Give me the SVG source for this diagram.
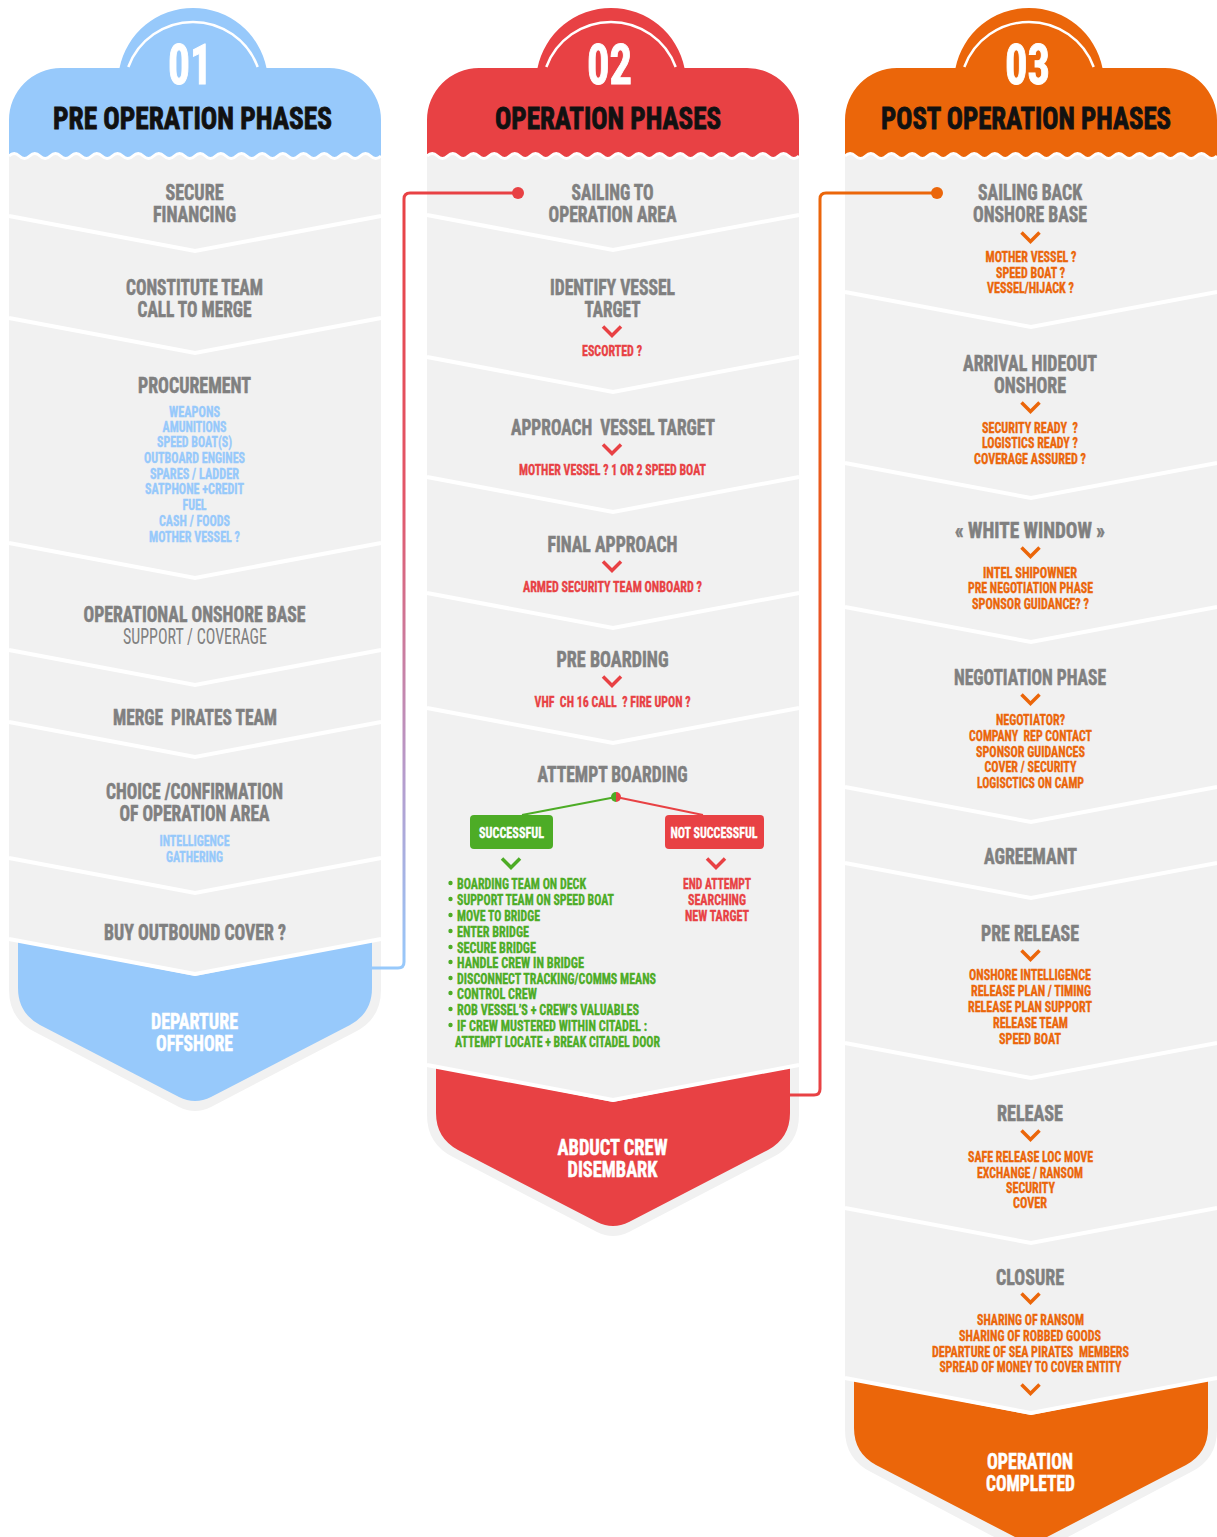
<svg xmlns="http://www.w3.org/2000/svg" xmlns:xlink="http://www.w3.org/1999/xlink" width="1217" height="1537" viewBox="0 0 1217 1537">
<style>
.f{font-family:"Liberation Sans Narrow","Roboto Condensed","DejaVu Sans Condensed",Roboto,"Liberation Sans",sans-serif;font-weight:700;text-anchor:middle}
.st{text-anchor:start}
.pre{white-space:pre}
.n{font-size:56px;fill:#fff;stroke:#fff;stroke-width:1}
.h{font-size:32px;fill:#111;stroke:#111;stroke-width:.9}
.t{font-size:22px;fill:#808080;stroke:#808080;stroke-width:.55}
.rg{font-weight:400;stroke-width:0}
.s{font-size:15px}
.w{font-size:22px;fill:#fff;stroke:#fff;stroke-width:.5}
.ws{font-size:15px;fill:#fff;stroke:#fff;stroke-width:.3}
.b{fill:#97c9fb}.r{fill:#e84144}.o{fill:#eb660a}.g{fill:#4dac26}
text.b{stroke:#97c9fb;stroke-width:.35}text.r{stroke:#e84144;stroke-width:.35}text.o{stroke:#eb660a;stroke-width:.35}text.g{stroke:#4dac26;stroke-width:.35}
.body{fill:#f1f1f1}
.sep{fill:none;stroke:#fff;stroke-width:4}
.cb{stroke:#e84144}.co{stroke:#eb660a}.cg{stroke:#4dac26}
</style>
<defs>
<path id="hdr" d="M0,160 V120 A52,52 0 0 1 52,68 H110.5 A75,75 0 0 1 257.5,68 H320 A52,52 0 0 1 372,120 V160 Z"/>
<path id="arc" d="M119.3,67 A69,69 0 0 1 248.7,67" fill="none" stroke="#fff" stroke-width="2.5"/>
<path id="wfill" d="M0,156 q5.167,-5 10.333,0 t10.333,0 t10.333,0 t10.333,0 t10.333,0 t10.333,0 t10.333,0 t10.333,0 t10.333,0 t10.333,0 t10.333,0 t10.333,0 t10.333,0 t10.333,0 t10.333,0 t10.333,0 t10.333,0 t10.333,0 t10.333,0 t10.333,0 t10.333,0 t10.333,0 t10.333,0 t10.333,0 t10.333,0 t10.333,0 t10.333,0 t10.333,0 t10.333,0 t10.333,0 t10.333,0 t10.333,0 t10.333,0 t10.333,0 t10.333,0 t10.333,0 V166 H0 Z" fill="#f1f1f1"/>
<path id="wline" d="M0,156 q5.167,-5 10.333,0 t10.333,0 t10.333,0 t10.333,0 t10.333,0 t10.333,0 t10.333,0 t10.333,0 t10.333,0 t10.333,0 t10.333,0 t10.333,0 t10.333,0 t10.333,0 t10.333,0 t10.333,0 t10.333,0 t10.333,0 t10.333,0 t10.333,0 t10.333,0 t10.333,0 t10.333,0 t10.333,0 t10.333,0 t10.333,0 t10.333,0 t10.333,0 t10.333,0 t10.333,0 t10.333,0 t10.333,0 t10.333,0 t10.333,0 t10.333,0 t10.333,0" fill="none" stroke="#fff" stroke-width="3"/>
<path id="cv" d="M-9,-4.5 L0,4.5 L9,-4.5" fill="none" stroke-width="3.5"/>
<linearGradient id="gBlue" gradientUnits="userSpaceOnUse" x1="0" y1="193" x2="0" y2="968">
<stop offset="0" stop-color="#e84144"/><stop offset="0.4" stop-color="#e2576a"/><stop offset="0.75" stop-color="#b69ccc"/><stop offset="1" stop-color="#97c9fb"/>
</linearGradient>
<linearGradient id="gOrange" gradientUnits="userSpaceOnUse" x1="0" y1="193" x2="0" y2="1095">
<stop offset="0" stop-color="#eb660a"/><stop offset="1" stop-color="#e84144"/>
</linearGradient>
</defs>
<rect width="1217" height="1537" fill="#fff"/>

<!-- COLUMN 1 -->
<g id="col1">
<path class="body" d="M9,150 H381 V990 Q381,1019 355,1032 L211,1107 Q195,1115 179,1107 L35,1032 Q9,1019 9,990 Z"/>
<g id="col1-header">
<use href="#hdr" transform="translate(9,0)" class="b"/>
<use href="#wfill" transform="translate(9,0)"/>
<use href="#wline" transform="translate(9,0)"/>
<use href="#arc" transform="translate(9,0)"/>
<text class="f n" x="190" y="84" textLength="44" lengthAdjust="spacingAndGlyphs">01</text>
<text class="f h" x="192.5" y="129" textLength="279" lengthAdjust="spacingAndGlyphs">PRE OPERATION PHASES</text>
</g>
<path id="col1-end" class="b" d="M18,941 L195,976 L372,941 V988 Q372,1013 350,1025 L211,1097 Q195,1105 179,1097 L40,1025 Q18,1013 18,988 Z"/>
<path class="sep" d="M9,216 L195,251 L381,216 M9,318 L195,353 L381,318 M9,543 L195,578 L381,543 M9,650 L195,685 L381,650 M9,722 L195,757 L381,722 M9,858 L195,893 L381,858 M9,939 L195,974 L381,939"/>
<g id="n-secure-financing">
<text class="f t" x="194.5" y="200" textLength="58" lengthAdjust="spacingAndGlyphs">SECURE</text>
<text class="f t" x="194.5" y="222" textLength="83" lengthAdjust="spacingAndGlyphs">FINANCING</text>
</g>
<g id="n-constitute-team">
<text class="f t" x="194.5" y="295" textLength="137" lengthAdjust="spacingAndGlyphs">CONSTITUTE TEAM</text>
<text class="f t" x="194.5" y="317" textLength="114" lengthAdjust="spacingAndGlyphs">CALL TO MERGE</text>
</g>
<g id="n-procurement">
<text class="f t" x="194.5" y="393" textLength="113" lengthAdjust="spacingAndGlyphs">PROCUREMENT</text>
<text class="f s b" x="194.5" y="416.5" textLength="51" lengthAdjust="spacingAndGlyphs">WEAPONS</text>
<text class="f s b" x="194.5" y="431.5" textLength="64" lengthAdjust="spacingAndGlyphs">AMUNITIONS</text>
<text class="f s b" x="194.5" y="447" textLength="75" lengthAdjust="spacingAndGlyphs">SPEED BOAT(S)</text>
<text class="f s b" x="194.5" y="462.5" textLength="101" lengthAdjust="spacingAndGlyphs">OUTBOARD ENGINES</text>
<text class="f s b" x="194.5" y="478.5" textLength="89" lengthAdjust="spacingAndGlyphs">SPARES / LADDER</text>
<text class="f s b" x="194.5" y="494" textLength="99" lengthAdjust="spacingAndGlyphs">SATPHONE +CREDIT</text>
<text class="f s b" x="194.5" y="509.5" textLength="24" lengthAdjust="spacingAndGlyphs">FUEL</text>
<text class="f s b" x="194.5" y="525.5" textLength="71" lengthAdjust="spacingAndGlyphs">CASH / FOODS</text>
<text class="f s b" x="194.5" y="541.5" textLength="91" lengthAdjust="spacingAndGlyphs">MOTHER VESSEL ?</text>
</g>
<g id="n-onshore-base">
<text class="f t" x="194.5" y="622" textLength="222" lengthAdjust="spacingAndGlyphs">OPERATIONAL ONSHORE BASE</text>
<text class="f t rg" x="195" y="644" textLength="144" lengthAdjust="spacingAndGlyphs">SUPPORT / COVERAGE</text>
</g>
<g id="n-merge-pirates">
<text class="f t pre" x="195" y="725" textLength="164" lengthAdjust="spacingAndGlyphs">MERGE  PIRATES TEAM</text>
</g>
<g id="n-choice-area">
<text class="f t" x="194.5" y="799" textLength="177" lengthAdjust="spacingAndGlyphs">CHOICE /CONFIRMATION</text>
<text class="f t" x="194.5" y="821" textLength="150" lengthAdjust="spacingAndGlyphs">OF OPERATION AREA</text>
<text class="f s b" x="194.5" y="845.5" textLength="70" lengthAdjust="spacingAndGlyphs">INTELLIGENCE</text>
<text class="f s b" x="194.5" y="861.5" textLength="57" lengthAdjust="spacingAndGlyphs">GATHERING</text>
</g>
<g id="n-buy-cover">
<text class="f t" x="195" y="940" textLength="182" lengthAdjust="spacingAndGlyphs">BUY OUTBOUND COVER ?</text>
</g>
<g id="n-departure">
<text class="f w" x="194.5" y="1029" textLength="87" lengthAdjust="spacingAndGlyphs">DEPARTURE</text>
<text class="f w" x="194.5" y="1051" textLength="77" lengthAdjust="spacingAndGlyphs">OFFSHORE</text>
</g>
</g>

<!-- COLUMN 2 -->
<g id="col2">
<path class="body" d="M427,150 H799 V1115 Q799,1144 773,1157 L629,1232 Q613,1240 597,1232 L453,1157 Q427,1144 427,1115 Z"/>
<g id="col2-header">
<use href="#hdr" transform="translate(427,0)" class="r"/>
<use href="#wfill" transform="translate(427,0)"/>
<use href="#wline" transform="translate(427,0)"/>
<use href="#arc" transform="translate(427,0)"/>
<text class="f n" x="609.5" y="84" textLength="45" lengthAdjust="spacingAndGlyphs">02</text>
<text class="f h" x="608" y="129" textLength="226" lengthAdjust="spacingAndGlyphs">OPERATION PHASES</text>
</g>
<path id="col2-end" class="r" d="M436,1067 L613,1102 L790,1067 V1113 Q790,1138 768,1150 L629,1222 Q613,1230 597,1222 L458,1150 Q436,1138 436,1113 Z"/>
<path class="sep" d="M427,215 L613,250 L799,215 M427,357 L613,392 L799,357 M427,477 L613,512 L799,477 M427,593 L613,628 L799,593 M427,708 L613,743 L799,708 M427,1065 L613,1100 L799,1065"/>
<g id="n-sailing-to">
<text class="f t" x="612.5" y="200" textLength="82" lengthAdjust="spacingAndGlyphs">SAILING TO</text>
<text class="f t" x="612.5" y="222" textLength="128" lengthAdjust="spacingAndGlyphs">OPERATION AREA</text>
</g>
<g id="n-identify">
<text class="f t" x="612.5" y="295" textLength="125" lengthAdjust="spacingAndGlyphs">IDENTIFY VESSEL</text>
<text class="f t" x="612.5" y="317" textLength="56" lengthAdjust="spacingAndGlyphs">TARGET</text>
<use href="#cv" x="612" y="331" class="cb"/>
<text class="f s r" x="612" y="355.5" textLength="60" lengthAdjust="spacingAndGlyphs">ESCORTED ?</text>
</g>
<g id="n-approach">
<text class="f t pre" x="613" y="435" textLength="204" lengthAdjust="spacingAndGlyphs">APPROACH  VESSEL TARGET</text>
<use href="#cv" x="612" y="449" class="cb"/>
<text class="f s r" x="612.5" y="474.5" textLength="187" lengthAdjust="spacingAndGlyphs">MOTHER VESSEL ? 1 OR 2 SPEED BOAT</text>
</g>
<g id="n-final-approach">
<text class="f t" x="612.5" y="552" textLength="130" lengthAdjust="spacingAndGlyphs">FINAL APPROACH</text>
<use href="#cv" x="612" y="566" class="cb"/>
<text class="f s r" x="612.5" y="591.5" textLength="179" lengthAdjust="spacingAndGlyphs">ARMED SECURITY TEAM ONBOARD ?</text>
</g>
<g id="n-pre-boarding">
<text class="f t" x="612.5" y="667" textLength="112" lengthAdjust="spacingAndGlyphs">PRE BOARDING</text>
<use href="#cv" x="612" y="681" class="cb"/>
<text class="f s r pre" x="612.5" y="706.5" textLength="156" lengthAdjust="spacingAndGlyphs">VHF  CH 16 CALL  ? FIRE UPON ?</text>
</g>
<g id="n-attempt-boarding">
<text class="f t" x="612.5" y="782" textLength="150" lengthAdjust="spacingAndGlyphs">ATTEMPT BOARDING</text>
<line x1="616" y1="797" x2="522" y2="815" stroke="#4dac26" stroke-width="2"/>
<line x1="616" y1="797" x2="703" y2="815" stroke="#e84144" stroke-width="2"/>
<path class="g" d="M616,792 A5,5 0 0 0 616,802 Z"/>
<path class="r" d="M616,792 A5,5 0 0 1 616,802 Z"/>
</g>
<g id="n-successful">
<rect class="g" x="470" y="815" width="83" height="34" rx="4"/>
<text class="f ws" x="511.5" y="837.5" textLength="65" lengthAdjust="spacingAndGlyphs">SUCCESSFUL</text>
<use href="#cv" x="511" y="863" class="cg"/>
<g class="g">
<circle cx="450.5" cy="883" r="2.2"/><circle cx="450.5" cy="899" r="2.2"/><circle cx="450.5" cy="915" r="2.2"/><circle cx="450.5" cy="931" r="2.2"/><circle cx="450.5" cy="947" r="2.2"/><circle cx="450.5" cy="962" r="2.2"/><circle cx="450.5" cy="978" r="2.2"/><circle cx="450.5" cy="993" r="2.2"/><circle cx="450.5" cy="1009" r="2.2"/><circle cx="450.5" cy="1025" r="2.2"/>
</g>
<text class="f s g st" x="457" y="888.5" textLength="129" lengthAdjust="spacingAndGlyphs">BOARDING TEAM ON DECK</text>
<text class="f s g st" x="457" y="904.5" textLength="157" lengthAdjust="spacingAndGlyphs">SUPPORT TEAM ON SPEED BOAT</text>
<text class="f s g st" x="457" y="920.5" textLength="83" lengthAdjust="spacingAndGlyphs">MOVE TO BRIDGE</text>
<text class="f s g st" x="457" y="936.5" textLength="72" lengthAdjust="spacingAndGlyphs">ENTER BRIDGE</text>
<text class="f s g st" x="457" y="952.5" textLength="79" lengthAdjust="spacingAndGlyphs">SECURE BRIDGE</text>
<text class="f s g st" x="457" y="967.5" textLength="127" lengthAdjust="spacingAndGlyphs">HANDLE CREW IN BRIDGE</text>
<text class="f s g st" x="457" y="983.5" textLength="199" lengthAdjust="spacingAndGlyphs">DISCONNECT TRACKING/COMMS MEANS</text>
<text class="f s g st" x="457" y="998.5" textLength="80" lengthAdjust="spacingAndGlyphs">CONTROL CREW</text>
<text class="f s g st" x="457" y="1014.5" textLength="182" lengthAdjust="spacingAndGlyphs">ROB VESSEL’S + CREW’S VALUABLES</text>
<text class="f s g st" x="457" y="1030.5" textLength="190" lengthAdjust="spacingAndGlyphs">IF CREW MUSTERED WITHIN CITADEL :</text>
<text class="f s g st" x="455" y="1046.5" textLength="205" lengthAdjust="spacingAndGlyphs">ATTEMPT LOCATE + BREAK CITADEL DOOR</text>
</g>
<g id="n-not-successful">
<rect class="r" x="665" y="815" width="99" height="34" rx="4"/>
<text class="f ws" x="714" y="837.5" textLength="87" lengthAdjust="spacingAndGlyphs">NOT SUCCESSFUL</text>
<use href="#cv" x="716" y="863" class="cb"/>
<text class="f s r" x="717" y="888.5" textLength="68" lengthAdjust="spacingAndGlyphs">END ATTEMPT</text>
<text class="f s r" x="717" y="904.5" textLength="58" lengthAdjust="spacingAndGlyphs">SEARCHING</text>
<text class="f s r" x="717" y="920.5" textLength="64" lengthAdjust="spacingAndGlyphs">NEW TARGET</text>
</g>
<g id="n-abduct">
<text class="f w" x="612.5" y="1155" textLength="110" lengthAdjust="spacingAndGlyphs">ABDUCT CREW</text>
<text class="f w" x="612.5" y="1177" textLength="90" lengthAdjust="spacingAndGlyphs">DISEMBARK</text>
</g>
</g>

<!-- COLUMN 3 -->
<g id="col3">
<path class="body" d="M845,150 H1217 V1430 Q1217,1459 1191,1472 L1047,1548 Q1031,1556 1015,1548 L871,1472 Q845,1459 845,1430 Z"/>
<g id="col3-header">
<use href="#hdr" transform="translate(845,0)" class="o"/>
<use href="#wfill" transform="translate(845,0)"/>
<use href="#wline" transform="translate(845,0)"/>
<use href="#arc" transform="translate(845,0)"/>
<text class="f n" x="1027.5" y="84" textLength="45" lengthAdjust="spacingAndGlyphs">03</text>
<text class="f h" x="1026" y="129" textLength="290" lengthAdjust="spacingAndGlyphs">POST OPERATION PHASES</text>
</g>
<path id="col3-end" class="o" d="M854,1380 L1031,1415 L1208,1380 V1428 Q1208,1453 1186,1465 L1047,1537 Q1031,1545 1015,1537 L876,1465 Q854,1453 854,1428 Z"/>
<path class="sep" d="M845,292 L1031,327 L1217,292 M845,463 L1031,498 L1217,463 M845,607 L1031,642 L1217,607 M845,787 L1031,822 L1217,787 M845,863 L1031,898 L1217,863 M845,1043 L1031,1078 L1217,1043 M845,1208 L1031,1243 L1217,1208 M845,1378 L1031,1413 L1217,1378"/>
<g id="n-sailing-back">
<text class="f t" x="1030" y="200" textLength="104" lengthAdjust="spacingAndGlyphs">SAILING BACK</text>
<text class="f t" x="1030" y="222" textLength="114" lengthAdjust="spacingAndGlyphs">ONSHORE BASE</text>
<use href="#cv" x="1030.5" y="237" class="co"/>
<text class="f s o" x="1031" y="262" textLength="91" lengthAdjust="spacingAndGlyphs">MOTHER VESSEL ?</text>
<text class="f s o" x="1030.5" y="277.5" textLength="69" lengthAdjust="spacingAndGlyphs">SPEED BOAT ?</text>
<text class="f s o" x="1030.5" y="293" textLength="87" lengthAdjust="spacingAndGlyphs">VESSEL/HIJACK ?</text>
</g>
<g id="n-arrival-hideout">
<text class="f t" x="1030" y="371" textLength="134" lengthAdjust="spacingAndGlyphs">ARRIVAL HIDEOUT</text>
<text class="f t" x="1030" y="393" textLength="72" lengthAdjust="spacingAndGlyphs">ONSHORE</text>
<use href="#cv" x="1030.5" y="407" class="co"/>
<text class="f s o pre" x="1030" y="432.5" textLength="96" lengthAdjust="spacingAndGlyphs">SECURITY READY  ?</text>
<text class="f s o" x="1030" y="447.5" textLength="96" lengthAdjust="spacingAndGlyphs">LOGISTICS READY ?</text>
<text class="f s o" x="1030" y="463.5" textLength="112" lengthAdjust="spacingAndGlyphs">COVERAGE ASSURED ?</text>
</g>
<g id="n-white-window">
<text class="f t" x="1030" y="538" textLength="150" lengthAdjust="spacingAndGlyphs">« WHITE WINDOW »</text>
<use href="#cv" x="1030.5" y="552" class="co"/>
<text class="f s o" x="1030" y="577.5" textLength="94" lengthAdjust="spacingAndGlyphs">INTEL SHIPOWNER</text>
<text class="f s o" x="1030.5" y="592.5" textLength="125" lengthAdjust="spacingAndGlyphs">PRE NEGOTIATION PHASE</text>
<text class="f s o" x="1030.5" y="608.5" textLength="117" lengthAdjust="spacingAndGlyphs">SPONSOR GUIDANCE? ?</text>
</g>
<g id="n-negotiation">
<text class="f t" x="1030" y="685" textLength="152" lengthAdjust="spacingAndGlyphs">NEGOTIATION PHASE</text>
<use href="#cv" x="1030.5" y="699" class="co"/>
<text class="f s o" x="1030.5" y="724.5" textLength="69" lengthAdjust="spacingAndGlyphs">NEGOTIATOR?</text>
<text class="f s o pre" x="1030.5" y="741" textLength="123" lengthAdjust="spacingAndGlyphs">COMPANY  REP CONTACT</text>
<text class="f s o" x="1030.5" y="756.5" textLength="109" lengthAdjust="spacingAndGlyphs">SPONSOR GUIDANCES</text>
<text class="f s o" x="1030.5" y="772" textLength="92" lengthAdjust="spacingAndGlyphs">COVER / SECURITY</text>
<text class="f s o" x="1030.5" y="787.5" textLength="107" lengthAdjust="spacingAndGlyphs">LOGISCTICS ON CAMP</text>
</g>
<g id="n-agreemant">
<text class="f t" x="1030.5" y="864" textLength="93" lengthAdjust="spacingAndGlyphs">AGREEMANT</text>
</g>
<g id="n-pre-release">
<text class="f t" x="1030" y="941" textLength="98" lengthAdjust="spacingAndGlyphs">PRE RELEASE</text>
<use href="#cv" x="1030.5" y="955" class="co"/>
<text class="f s o" x="1030" y="979.5" textLength="122" lengthAdjust="spacingAndGlyphs">ONSHORE INTELLIGENCE</text>
<text class="f s o" x="1031" y="995.5" textLength="120" lengthAdjust="spacingAndGlyphs">RELEASE PLAN / TIMING</text>
<text class="f s o" x="1030" y="1011.5" textLength="124" lengthAdjust="spacingAndGlyphs">RELEASE PLAN SUPPORT</text>
<text class="f s o" x="1030.5" y="1027.5" textLength="75" lengthAdjust="spacingAndGlyphs">RELEASE TEAM</text>
<text class="f s o" x="1030" y="1043.5" textLength="62" lengthAdjust="spacingAndGlyphs">SPEED BOAT</text>
</g>
<g id="n-release">
<text class="f t" x="1030" y="1121" textLength="66" lengthAdjust="spacingAndGlyphs">RELEASE</text>
<use href="#cv" x="1030.5" y="1135" class="co"/>
<text class="f s o" x="1030.5" y="1161.5" textLength="125" lengthAdjust="spacingAndGlyphs">SAFE RELEASE LOC MOVE</text>
<text class="f s o" x="1030" y="1177.5" textLength="106" lengthAdjust="spacingAndGlyphs">EXCHANGE / RANSOM</text>
<text class="f s o" x="1030.5" y="1192.5" textLength="49" lengthAdjust="spacingAndGlyphs">SECURITY</text>
<text class="f s o" x="1030" y="1207.5" textLength="34" lengthAdjust="spacingAndGlyphs">COVER</text>
</g>
<g id="n-closure">
<text class="f t" x="1030" y="1285" textLength="68" lengthAdjust="spacingAndGlyphs">CLOSURE</text>
<use href="#cv" x="1030.5" y="1298" class="co"/>
<text class="f s o" x="1030.5" y="1324.5" textLength="107" lengthAdjust="spacingAndGlyphs">SHARING OF RANSOM</text>
<text class="f s o" x="1030" y="1340.5" textLength="142" lengthAdjust="spacingAndGlyphs">SHARING OF ROBBED GOODS</text>
<text class="f s o pre" x="1030.5" y="1356.5" textLength="197" lengthAdjust="spacingAndGlyphs">DEPARTURE OF SEA PIRATES  MEMBERS</text>
<text class="f s o" x="1030.5" y="1371.5" textLength="182" lengthAdjust="spacingAndGlyphs">SPREAD OF MONEY TO COVER ENTITY</text>
<use href="#cv" x="1030.5" y="1389" class="co"/>
</g>
<g id="n-completed">
<text class="f w" x="1030" y="1469" textLength="86" lengthAdjust="spacingAndGlyphs">OPERATION</text>
<text class="f w" x="1030.5" y="1491" textLength="89" lengthAdjust="spacingAndGlyphs">COMPLETED</text>
</g>
</g>

<!-- CONNECTORS -->
<g id="connectors" fill="none" stroke-width="3">
<path d="M372,968 H398 Q404,968 404,962 V199 Q404,193 410,193 H518" stroke="url(#gBlue)"/>
<circle cx="518" cy="193" r="6" fill="#e84144"/>
<path d="M790,1095 H814 Q820,1095 820,1089 V199 Q820,193 826,193 H937" stroke="url(#gOrange)"/>
<circle cx="937" cy="193" r="6" fill="#eb660a"/>
</g>
</svg>
